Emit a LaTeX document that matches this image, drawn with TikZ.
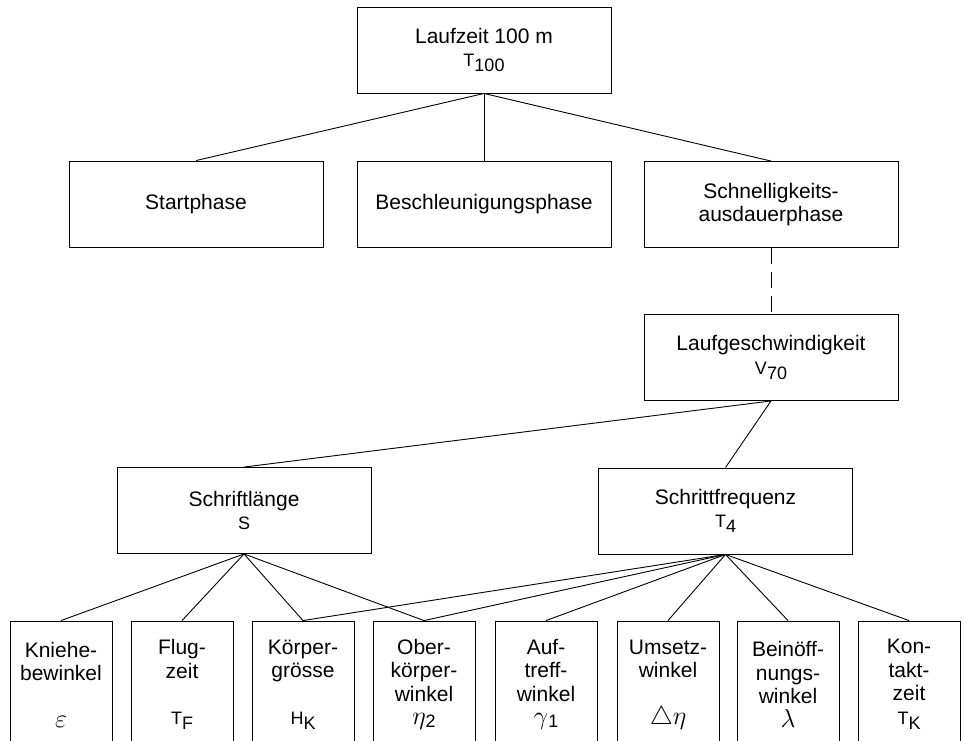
\documentclass[tikz,border=0pt]{standalone}
\usepackage{amsmath,amssymb}
\usepackage{graphicx}
\usepackage{fontspec}
\setmainfont{Liberation Sans}
\newcommand{\sym}[2]{{\fontsize{18}{20}\selectfont #1\raisebox{-5pt}{#2}}}
\newcommand{\grk}[1]{\scalebox{1.25}{$#1$}}

\begin{document}
\begin{tikzpicture}[x=1pt,y=-1pt,
  box/.style={draw,line width=0.9pt,minimum width=254pt,minimum height=86pt,
              inner sep=0pt,font=\fontsize{21}{23.5}\selectfont,align=center},
  leaf/.style={draw,line width=0.9pt,minimum width=102pt,minimum height=127pt,
               inner sep=0pt,font=\fontsize{21}{23.5}\selectfont,align=center},
  link/.style={line width=0.9pt},
  dashlink/.style={line width=0.9pt,dash pattern=on 16pt off 8pt}
]
  \useasboundingbox (0,0) rectangle (965,740);
  % Level 1
  \node[box] (t100) at (484,50) {Laufzeit 100 m\\\sym{T}{100}};
  % Level 2
  \node[box] (start)  at (196,204) {Startphase};
  \node[box] (beschl) at (484,204.5) {Beschleunigungsphase};
  \node[box] (schnell) at (771,204.5) {Schnelligkeits-\\ausdauerphase};
  % Level 3
  \node[box] (v70) at (771,357.5) {Laufgeschwindigkeit\\\sym{V}{70}};
  % Level 4
  \node[box] (sl) at (244,510.5) {Schriftlänge\\{\fontsize{18}{20}\selectfont S}};
  \node[box] (sf) at (725.5,511) {Schrittfrequenz\\\sym{T}{4}};
  % Level 5
  \node[leaf] (knie) at (61,684.5)  {Kniehe-\\bewinkel\\[23pt]\grk{\varepsilon}};
  \node[leaf] (flug) at (182,684.5) {Flug-\\zeit\\[23pt]\sym{T}{F}};
  \node[leaf] (koerp) at (303,684.5) {Körper-\\grösse\\[23pt]\sym{H}{K}};
  \node[leaf] (ober) at (424,684.5) {Ober-\\körper-\\winkel\\\grk{\eta}\raisebox{-3pt}{\fontsize{18}{20}\selectfont 2}};
  \node[leaf] (auf) at (546,684.5) {Auf-\\treff-\\winkel\\\grk{\gamma}\raisebox{-3pt}{\fontsize{18}{20}\selectfont 1}};
  \node[leaf] (umsetz) at (668,684.5) {Umsetz-\\winkel\\[23pt]\grk{\triangle\eta}};
  \node[leaf] (bein) at (788,684.5) {Beinöff-\\nungs-\\winkel\\\grk{\lambda}};
  \node[leaf] (kont) at (909,684.5) {Kon-\\takt-\\zeit\\\sym{T}{K}};
  % Connectors
  \draw[link] (t100.south) -- (start.north);
  \draw[link] (t100.south) -- (beschl.north);
  \draw[link] (t100.south) -- (schnell.north);
  \draw[dashlink] (schnell.south) -- (v70.north);
  \draw[link] (v70.south) -- (sl.north);
  \draw[link] (v70.south) -- (sf.north);
  \draw[link] (sl.south) -- (knie.north);
  \draw[link] (sl.south) -- (flug.north);
  \draw[link] (sl.south) -- (koerp.north);
  \draw[link] (sl.south) -- (ober.north);
  \draw[link] (sf.south) -- (koerp.north);
  \draw[link] (sf.south) -- (ober.north);
  \draw[link] (sf.south) -- (auf.north);
  \draw[link] (sf.south) -- (umsetz.north);
  \draw[link] (sf.south) -- (bein.north);
  \draw[link] (sf.south) -- (kont.north);
\end{tikzpicture}
\end{document}
